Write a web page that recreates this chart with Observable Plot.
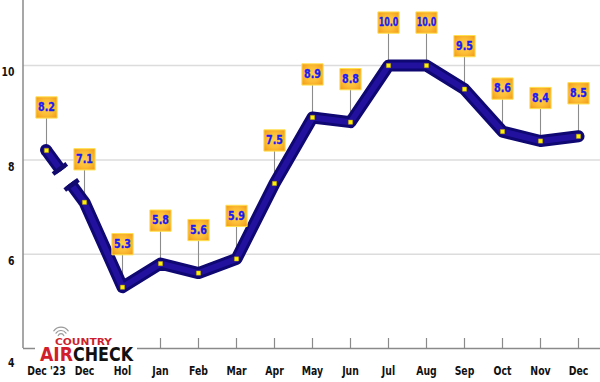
<!DOCTYPE html>
<html><head><meta charset="utf-8">
<script src="https://cdn.jsdelivr.net/npm/d3@7"></script>
<script src="https://cdn.jsdelivr.net/npm/@observablehq/plot@0.6"></script>
<style>
body{margin:0;background:#fff;}
#wrap{position:relative;width:600px;height:382px;overflow:hidden;background:#fff;}
#logo{position:absolute;left:35px;top:326px;}
</style></head><body>
<div id="wrap">
</div>
<script>
const categories = ["Dec '23","Dec","Hol","Jan","Feb","Mar","Apr","May","Jun","Jul","Aug","Sep","Oct","Nov","Dec"];
const values = [8.2,7.1,5.3,5.8,5.6,5.9,7.5,8.9,8.8,10.0,10.0,9.5,8.6,8.4,8.5];
const yTicks = [6,8,10];
const yBottomTick = [4];
const gridValues = [6,8,10];
const breakAfter = 0; // scale break between first and second point

const data = categories.map((c, i) => ({i, c, v: values[i]}));
const mainData = data.filter(d => d.i > breakAfter);
const FONT = "'DejaVu Sans Condensed','DejaVu Sans',sans-serif";

function getArgs(args){
  const scales = args.find(a => a && typeof a.x === "function" && typeof a.y === "function");
  const dims = args.find(a => a && typeof a === "object" && "marginLeft" in a && "width" in a);
  return {scales, dims};
}
const svgNS = "http://www.w3.org/2000/svg";
const OUTER = "#0f0772", INNER = "#22119f";

// decorative break pieces between point 0 and point 1
function breakMark(layer){
  return function(...args){
    const {scales} = getArgs(args);
    const g = document.createElementNS(svgNS, "g");
    const a = data[breakAfter], b = data[breakAfter+1];
    const x0 = scales.x(a.i), y0 = scales.y(a.v), x1 = scales.x(b.i), y1 = scales.y(b.v);
    const dx = x1-x0, dy = y1-y0, L = Math.hypot(dx,dy), ux = dx/L, uy = dy/L, nx = -uy, ny = ux;
    const tA = 0.40, tB = 0.64;
    const pA = [x0+dx*tA, y0+dy*tA], pB = [x0+dx*tB, y0+dy*tB];
    const seg = (p, q, w, col) => {
      const l = document.createElementNS(svgNS, "line");
      l.setAttribute("x1", p[0]); l.setAttribute("y1", p[1]);
      l.setAttribute("x2", q[0]); l.setAttribute("y2", q[1]);
      l.setAttribute("stroke", col); l.setAttribute("stroke-width", w);
      l.setAttribute("stroke-linecap", "butt");
      g.appendChild(l);
    };
    const circ = (p, r, col) => {
      const c = document.createElementNS(svgNS, "circle");
      c.setAttribute("cx", p[0]); c.setAttribute("cy", p[1]); c.setAttribute("r", r);
      c.setAttribute("fill", col); g.appendChild(c);
    };
    if (layer === "outer") {
      seg([x0,y0], pA, 12, OUTER); circ([x0,y0], 6, OUTER);
      seg(pB, [x1,y1], 12, OUTER);
    } else {
      seg([x0,y0], pA, 6, INNER); circ([x0,y0], 3, INNER);
      seg(pB, [x1,y1], 6, INNER);
      const bar = (p, s) => {
        const c = [p[0]+ux*2.2*s, p[1]+uy*2.2*s];
        seg([c[0]-nx*8.5, c[1]-ny*8.5], [c[0]+nx*8.5, c[1]+ny*8.5], 4.5, "#12096f");
      };
      bar(pA, -1); bar(pB, 1);
    }
    return g;
  };
}

function defsMark(...args){
  const g = document.createElementNS(svgNS, "defs");
  g.innerHTML = `<radialGradient id="boxgrad" cx="50%" cy="50%" r="65%">
    <stop offset="0%" stop-color="#ffd24a"/><stop offset="55%" stop-color="#fcbd35"/><stop offset="100%" stop-color="#f39c1c"/></radialGradient>`;
  return g;
}

function axisLines(...args){
  const {dims} = getArgs(args);
  const g = document.createElementNS(svgNS, "g");
  const l = document.createElementNS(svgNS, "line");
  l.setAttribute("x1", dims.marginLeft); l.setAttribute("x2", dims.marginLeft);
  l.setAttribute("y1", dims.marginTop); l.setAttribute("y2", dims.height - dims.marginBottom);
  l.setAttribute("stroke", "#8a8a8a"); l.setAttribute("stroke-width", 1.5);
  g.appendChild(l);
  return g;
}

const plot = Plot.plot({
  width: 600,
  height: 382,
  marginLeft: 23,
  marginRight: 0,
  marginTop: 0,
  marginBottom: 34,
  style: {background: "#fff", fontFamily: FONT, overflow: "visible"},
  x: {type: "point", domain: data.map(d => d.i), padding: 0.5, axis: null},
  y: {domain: [4, 11.38], axis: null},
  marks: [
    defsMark,
    Plot.ruleY(gridValues, {stroke: "#dcdcdc", strokeWidth: 1.5}),
    Plot.ruleY(yBottomTick, {stroke: "#8a8a8a", strokeWidth: 1.5}),
    axisLines,
    Plot.ruleX(data, {x: "i", y1: () => 4, y2: () => 4, insetBottom: 10, stroke: "#8a8a8a", strokeWidth: 1.2}),
    Plot.axisX({label: null, tickSize: 0, tickPadding: 18.5, tickFormat: i => categories[i], fontWeight: "bold", fontSize: 11.5, fill: "#111", stroke: "#111", strokeWidth: 0.35}),
    Plot.axisY(yTicks, {label: null, tickSize: 0, tickPadding: 9, dy: 7, fontWeight: "bold", fontSize: 12, fill: "#111", stroke: "#111", strokeWidth: 0.35}),
    Plot.axisY(yBottomTick, {label: null, tickSize: 0, tickPadding: 9, dy: 15, fontWeight: "bold", fontSize: 12, fill: "#111", stroke: "#111", strokeWidth: 0.35}),
    // leader lines
    Plot.ruleX(data, {x: "i", y1: "v", y2: "v", insetBottom: 36, stroke: "#8c8c8c", strokeWidth: 1.1}),
    // line
    Plot.line(mainData, {x: "i", y: "v", stroke: OUTER, strokeWidth: 12, strokeLinejoin: "round", strokeLinecap: "round"}),
    breakMark("outer"),
    Plot.line(mainData, {x: "i", y: "v", stroke: INNER, strokeWidth: 6, strokeLinejoin: "round", strokeLinecap: "round"}),
    breakMark("inner"),
    // point markers
    Plot.dot(data, {x: "i", y: "v", symbol: "square", r: 2.4, fill: "#fff200", stroke: "#b8a000", strokeWidth: 0.4}),
    // label boxes
    Plot.dot(data, {x: "i", y: "v", dy: -43, symbol: "square", r: 12, fill: "url(#boxgrad)", stroke: "#ffe14d", strokeWidth: 1}),
    Plot.text(data, {x: "i", y: "v", dy: -43, text: d => d.v.toFixed(1), fill: "#1a1af5", stroke: "#1a1af5", strokeWidth: 0.3, fontWeight: "bold", fontSize: 11.5, fontFamily: FONT})
  ]
});
document.getElementById("wrap").appendChild(plot);

// condense the heavy labels horizontally, like the original's condensed face
plot.querySelectorAll('g[aria-label="x-axis tick label"] text').forEach(t => {
  const w = t.getComputedTextLength();
  t.setAttribute("textLength", (w * 0.9).toFixed(1));
  t.setAttribute("lengthAdjust", "spacingAndGlyphs");
});
plot.querySelectorAll('g[aria-label="y-axis tick label"] text').forEach(t => {
  const w = t.getComputedTextLength();
  t.setAttribute("textLength", (w * 0.86).toFixed(1));
  t.setAttribute("lengthAdjust", "spacingAndGlyphs");
});
plot.querySelectorAll('g[aria-label="text"] text').forEach(t => {
  const w = t.getComputedTextLength();
  t.setAttribute("textLength", Math.min(w * 0.92, 19.5).toFixed(1));
  t.setAttribute("lengthAdjust", "spacingAndGlyphs");
});

// logo overlay
const logo = `<svg id="logo" xmlns="http://www.w3.org/2000/svg" width="102" height="38" viewBox="0 0 102 38">
  <rect x="0" y="0" width="102" height="38" fill="#fff"/>
  <g fill="none" stroke="#9a9a9a" stroke-width="1.2" stroke-linecap="round">
    <path d="M23.2 9.6 A3 3 0 0 1 28.8 9.6"/>
    <path d="M21 7.2 A6 6 0 0 1 31 7.2"/>
    <path d="M18.8 4.8 A9 9 0 0 1 33.2 4.8"/>
  </g>
  <text x="20" y="19" font-family="'DejaVu Sans',sans-serif" font-weight="bold" font-size="9" fill="#cc1f2d" textLength="57" lengthAdjust="spacingAndGlyphs">COUNTRY</text>
  <text x="5" y="35" font-family="'DejaVu Sans',sans-serif" font-weight="bold" font-size="19" fill="#d21e2b" textLength="33" lengthAdjust="spacingAndGlyphs">AIR</text>
  <text x="38" y="35" font-family="'DejaVu Sans',sans-serif" font-weight="bold" font-size="19" fill="#111" textLength="60" lengthAdjust="spacingAndGlyphs">CHECK</text>
</svg>`;
document.getElementById("wrap").insertAdjacentHTML("beforeend", logo);
</script>
</body></html>
